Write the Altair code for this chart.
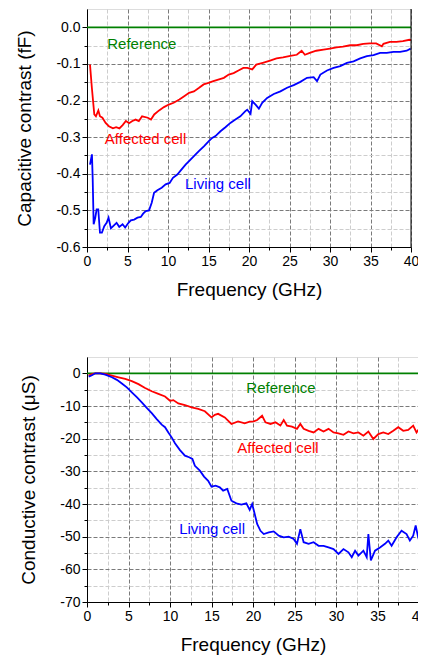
import altair as alt
import pandas as pd

# ---------------- data ----------------
cap_aff_f = [0.37, 0.6, 0.9, 1.1, 1.4, 1.6, 1.9, 2.3, 2.7, 3.2, 3.6, 4.0, 4.4, 4.8, 5.2, 5.6, 6.0, 6.4, 6.8,
             7.5, 7.9, 8.3, 8.9, 9.5, 10.1, 10.7, 11.4, 12.0, 12.6, 13.2, 13.8, 14.4, 15.0, 15.6, 16.2, 16.9,
             17.5, 18.1, 18.7, 19.3, 19.8, 20.4, 20.9, 21.7, 22.6, 23.4, 24.2, 25.1, 25.9, 26.5, 26.9, 27.5,
             28.3, 29.2, 30.0, 30.8, 31.6, 32.5, 33.3, 34.1, 34.9, 35.7, 36.4, 36.6, 37.4, 38.2, 39.0, 39.8, 40.0]
cap_aff_v = [-0.102, -0.165, -0.238, -0.243, -0.227, -0.243, -0.247, -0.261, -0.270, -0.276, -0.273, -0.276,
             -0.267, -0.256, -0.262, -0.256, -0.252, -0.256, -0.243, -0.247, -0.252, -0.238, -0.227, -0.218,
             -0.211, -0.206, -0.197, -0.188, -0.179, -0.175, -0.166, -0.156, -0.152, -0.147, -0.143, -0.138,
             -0.129, -0.125, -0.118, -0.111, -0.111, -0.115, -0.102, -0.097, -0.091, -0.085, -0.082, -0.078,
             -0.075, -0.064, -0.075, -0.070, -0.064, -0.061, -0.058, -0.055, -0.053, -0.049, -0.049, -0.045,
             -0.044, -0.044, -0.052, -0.045, -0.040, -0.040, -0.038, -0.034, -0.035]

cap_liv_f = [0.37, 0.61, 0.70, 0.82, 1.02, 1.19, 1.39, 1.60, 1.84, 2.13, 2.42, 2.66, 2.95, 3.36, 3.65, 3.98,
             4.39, 4.71, 5.12, 5.41, 5.82, 6.23, 6.64, 6.93, 7.25, 7.66, 7.99, 8.28, 8.69, 9.22, 9.71, 10.20,
             10.61, 11.15, 11.68, 12.17, 12.66, 13.20, 13.81, 14.43, 15.04, 15.45, 15.86, 16.48, 17.09, 17.70,
             18.32, 18.93, 19.55, 19.78, 20.19, 20.40, 20.81, 21.22, 21.63, 22.24, 23.06, 23.88, 24.70, 25.52,
             26.34, 27.16, 27.98, 28.40, 28.81, 29.63, 30.45, 31.27, 32.09, 32.91, 33.73, 34.55, 35.37, 36.19,
             37.01, 37.83, 38.65, 39.47, 39.96]
cap_liv_v = [-0.375, -0.347, -0.411, -0.538, -0.520, -0.497, -0.497, -0.561, -0.561, -0.543, -0.534, -0.520,
             -0.549, -0.540, -0.534, -0.545, -0.538, -0.547, -0.534, -0.527, -0.525, -0.520, -0.518, -0.509,
             -0.502, -0.500, -0.479, -0.452, -0.445, -0.438, -0.429, -0.425, -0.411, -0.402, -0.388, -0.375,
             -0.364, -0.352, -0.338, -0.325, -0.311, -0.302, -0.297, -0.284, -0.273, -0.261, -0.252, -0.243,
             -0.229, -0.225, -0.236, -0.202, -0.211, -0.222, -0.206, -0.193, -0.182, -0.175, -0.165, -0.158,
             -0.149, -0.138, -0.136, -0.147, -0.129, -0.118, -0.111, -0.106, -0.097, -0.093, -0.085, -0.079,
             -0.076, -0.070, -0.070, -0.067, -0.067, -0.064, -0.058]

con_aff_f = [0.2, 0.6, 1.0, 1.6, 2.2, 3.0, 3.8, 4.6, 5.4, 6.2, 7.0, 7.8, 8.6, 9.4, 10.0, 10.4, 11.0, 11.8, 12.6,
             13.4, 14.2, 15.0, 15.4, 15.8, 16.6, 17.4, 18.2, 19.0, 19.6, 20.1, 20.5, 21.1, 21.5, 22.1, 22.7,
             23.3, 23.7, 24.1, 24.7, 25.3, 25.7, 26.1, 26.7, 27.3, 27.9, 28.5, 29.1, 29.7, 30.3, 30.9, 31.5,
             32.1, 32.7, 33.3, 33.9, 34.5, 35.1, 35.7, 36.3, 36.9, 37.5, 38.1, 38.7, 39.3, 39.7, 40.0]
con_aff_v = [-0.7, -0.2, 0.0, 0.0, -0.2, -0.7, -1.2, -1.7, -2.4, -3.3, -4.5, -5.5, -6.3, -7.1, -8.4, -8.2, -9.2,
             -9.7, -10.4, -10.9, -11.6, -13.5, -12.7, -12.4, -13.5, -15.5, -14.7, -15.3, -14.8, -14.7, -14.3,
             -13.0, -15.0, -15.5, -15.0, -16.0, -14.3, -16.0, -16.3, -17.0, -15.5, -17.0, -17.6, -18.1, -17.0,
             -17.8, -17.0, -18.1, -18.4, -18.8, -17.8, -18.4, -18.1, -19.1, -17.8, -20.1, -18.6, -18.1, -18.6,
             -17.6, -16.5, -17.6, -17.3, -16.0, -18.1, -17.0]

con_liv_f = [0.2, 0.6, 1.0, 1.6, 2.2, 3.0, 3.6, 4.2, 4.8, 5.4, 6.0, 6.6, 7.2, 7.8, 8.4, 9.0, 9.4, 9.8, 10.2,
             10.6, 11.2, 11.8, 12.3, 12.7, 13.0, 13.6, 14.1, 14.6, 15.0, 15.5, 16.0, 16.4, 16.9, 17.4, 18.0,
             18.6, 19.2, 19.6, 19.9, 20.1, 20.5, 20.9, 21.3, 21.9, 22.5, 23.1, 23.7, 24.3, 24.9, 25.3, 25.7,
             26.1, 26.7, 27.3, 27.9, 28.5, 29.1, 29.7, 30.3, 30.9, 31.5, 31.9, 32.3, 32.7, 33.3, 33.7, 33.9,
             34.2, 34.7, 35.3, 35.9, 36.3, 36.7, 37.3, 37.9, 38.5, 38.9, 39.3, 39.6, 39.9, 40.0]
con_liv_v = [-1.0, -0.6, 0.0, 0.0, -0.4, -1.2, -2.0, -3.1, -4.3, -5.8, -7.3, -8.9, -10.6, -12.2, -14.0, -15.7,
             -16.5, -18.1, -19.6, -21.4, -23.5, -25.2, -25.7, -26.2, -28.3, -29.8, -31.6, -32.9, -34.7, -34.4,
             -34.9, -35.9, -35.4, -39.0, -39.8, -40.2, -39.8, -41.8, -40.0, -42.0, -46.1, -48.2, -49.2, -48.7,
             -48.4, -49.7, -50.2, -50.0, -50.7, -52.2, -47.7, -51.7, -52.2, -51.7, -52.8, -52.8, -53.3, -53.8,
             -55.3, -53.8, -54.8, -56.3, -54.3, -55.8, -54.3, -56.3, -49.2, -57.3, -54.3, -53.3, -52.2, -51.2,
             -52.8, -50.2, -48.2, -49.2, -51.2, -49.7, -46.6, -50.2, -51.0]

ref_f = [0, 40]
ref_v = [0, 0]

series_names = ["Reference", "Affected cell", "Living cell"]
series_colors = ["#008000", "#ff0000", "#0000ff"]

x_ticks = [0, 2.5, 5, 7.5, 10, 12.5, 15, 17.5, 20, 22.5, 25, 27.5, 30, 32.5, 35, 37.5, 40]
cap_ticks = [0.0, -0.05, -0.1, -0.15, -0.2, -0.25, -0.3, -0.35, -0.4, -0.45, -0.5, -0.55, -0.6]
con_ticks = [0, -5, -10, -15, -20, -25, -30, -35, -40, -45, -50, -55, -60, -65, -70]

FONT = "Liberation Sans"


def long_df(parts):
    rows = []
    for name, fs, vs in parts:
        for f, v in zip(fs, vs):
            rows.append({"freq": f, "value": v, "series": name})
    return pd.DataFrame(rows)


def axis(values, major_test, label_expr, title, tpad, orient):
    return alt.Axis(
        values=values,
        labelExpr=label_expr,
        title=title,
        titlePadding=tpad,
        labelFlush=False,
        labelOverlap=False,
        labelFont=FONT, labelFontSize=14, labelColor="black", labelPadding=2,
        titleFont=FONT, titleFontSize=19, titleFontWeight="normal", titleColor="black",
        domainColor="black", domainWidth=1,
        tickColor="black", tickWidth=1,
        tickSize={"condition": {"test": major_test, "value": 5}, "value": 3},
        grid=True,
        gridColor={"condition": {"test": major_test, "value": "#7a7a7a"}, "value": "#cdcdcd"},
        gridDash=[4, 2],
        gridWidth=1,
        orient=orient,
    )


color_enc = alt.Color("series:N",
                      scale=alt.Scale(domain=series_names, range=series_colors),
                      legend=None)


def panel(df, labels_df, ydomain, yticks, ymajor, ylabel, ytitle, w, h, ytpad, xtpad):
    X = alt.X("freq:Q", scale=alt.Scale(domain=[0, 40], nice=False, zero=False),
              axis=axis(x_ticks, "datum.value % 5 === 0",
                        "datum.value % 5 === 0 ? format(datum.value, 'd') : ''",
                        "Frequency (GHz)", xtpad, "bottom"))
    Y = alt.Y("value:Q", scale=alt.Scale(domain=ydomain, nice=False, zero=False),
              axis=axis(yticks, ymajor, ylabel, ytitle, ytpad, "left"))
    lines = alt.Chart(df).mark_line(strokeWidth=1.8, clip=True).encode(
        x=X, y=Y, color=color_enc, detail="series:N")
    texts = alt.Chart(labels_df).mark_text(font=FONT, fontSize=15, align="left",
                                           baseline="middle").encode(
        x=X, y=Y, text="label:N", color=color_enc)
    edge = pd.DataFrame({"freq": [x_ticks[-1]]})
    border = alt.Chart(edge).mark_rule(color="black", strokeWidth=1).encode(
        x=X, y=alt.value(0), y2=alt.value(h))
    return alt.layer(lines, texts, border).properties(width=w, height=h)


cap_df = long_df([("Reference", ref_f, ref_v),
                  ("Affected cell", cap_aff_f, cap_aff_v),
                  ("Living cell", cap_liv_f, cap_liv_v)])
con_df = long_df([("Reference", ref_f, ref_v),
                  ("Affected cell", con_aff_f, con_aff_v),
                  ("Living cell", con_liv_f, con_liv_v)])

cap_labels = pd.DataFrame({"label": series_names, "series": series_names,
                           "freq": [2.5, 2.2, 12.1], "value": [-0.046, -0.306, -0.428]})
con_labels = pd.DataFrame({"label": series_names, "series": series_names,
                           "freq": [19.2, 18.1, 11.1], "value": [-4.5, -22.9, -47.7]})

cap_major = "abs(datum.value*10 - round(datum.value*10)) < 0.001"
cap_label = ("abs(datum.value*10 - round(datum.value*10)) < 0.001 ? "
             "(datum.value < -0.001 ? '-' : '') + format(abs(datum.value), '.1f') : ''")
con_major = "datum.value % 10 === 0"
con_label = ("datum.value % 10 === 0 ? "
             "(datum.value < 0 ? '-' : '') + format(abs(datum.value), 'd') : ''")

top = panel(cap_df, cap_labels, [-0.6, 0.05], cap_ticks, cap_major, cap_label,
            "Capacitive contrast (fF)", 324, 238, 21, 12)
bottom = panel(con_df, con_labels, [-70, 5], con_ticks, con_major, con_label,
               "Conductive contrast (\u03bcS)", 332, 245, 21, 12)

chart = alt.concat(top, bottom, columns=1, spacing=56).properties(
    padding={"left": 7, "top": 0, "right": -10, "bottom": 0},
).configure_view(stroke=None).configure(font=FONT)

chart.save("out.html", embed_options={"renderer": "svg", "actions": False})
